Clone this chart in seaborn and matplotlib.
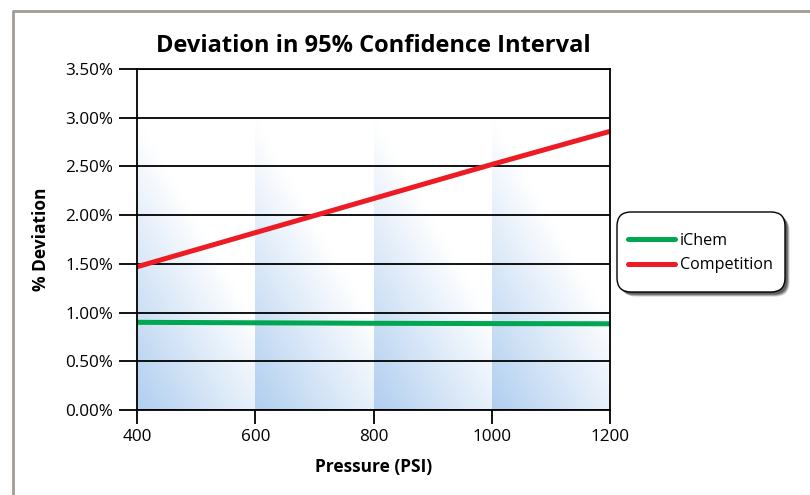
import numpy as np
import pandas as pd
import matplotlib
matplotlib.use("Agg")
import matplotlib.pyplot as plt
import seaborn as sns
from matplotlib.lines import Line2D
from matplotlib.patches import FancyBboxPatch

# Data (percent deviation vs pressure)
pressure = [400, 600, 800, 1000, 1200]
ichem = [0.90, 0.895, 0.89, 0.887, 0.885]
competition = [1.47, 1.82, 2.17, 2.52, 2.86]
series_names = ["iChem", "Competition"]
y_ticks = [0, 0.5, 1.0, 1.5, 2.0, 2.5, 3.0, 3.5]
x_ticks = [400, 600, 800, 1000, 1200]

df = pd.DataFrame({
    "Pressure": pressure * 2,
    "Deviation": ichem + competition,
    "Series": [series_names[0]] * len(pressure) + [series_names[1]] * len(pressure),
})

sns.set_theme(style="white")
plt.rcParams['font.family'] = ['Open Sans', 'DejaVu Sans']
plt.rcParams.update({"text.color": "black", "axes.labelcolor": "black",
                     "xtick.color": "black", "ytick.color": "black"})

fig = plt.figure(figsize=(8.1, 4.95), dpi=100)
ax = fig.add_axes([137/810, 1 - 410/495, (610-137)/810, (410-69)/495])

# gradient bands behind the plot (blue bottom-left fading to white top-right)
blue = np.array([0.69, 0.81, 0.94])
xs = np.linspace(0, 1, 150)
ys = np.linspace(0, 1, 150)
XX, YY = np.meshgrid(xs, ys)
v = np.clip(1 - 0.7 * XX - 1.0 * YY, 0, 1)
img = np.ones((150, 150, 3)) * (1 - v[..., None]) + blue * v[..., None]
for x0 in x_ticks[:-1]:
    ax.imshow(img, extent=(x0, x0 + 200, 0, 3.0), origin="lower",
              aspect="auto", zorder=0, interpolation="bilinear")

sns.lineplot(data=df, x="Pressure", y="Deviation", hue="Series",
             palette={"iChem": "#00a651", "Competition": "#ed1c24"},
             linewidth=3.6, ax=ax, zorder=3)

ax.set_xlim(400, 1200)
ax.set_ylim(0, 3.5)
ax.set_xticks(x_ticks)
ax.set_yticks(y_ticks)
ax.set_yticklabels([f"{t:.2f}%" for t in y_ticks])
for t in y_ticks:
    ax.axhline(t, color="black", lw=1.3, zorder=2)
for s in ax.spines.values():
    s.set_color("black")
    s.set_linewidth(1.3)
    s.set_zorder(4)
ax.tick_params(axis="both", which="major", direction="out", length=10,
               width=1.3, color="black", labelsize=12.3, pad=4,
               bottom=True, left=True)
ax.tick_params(axis="y", length=13)

ax.set_title("Deviation in 95% Confidence Interval", fontsize=17,
             fontweight="bold", pad=12)
ax.set_xlabel("Pressure (PSI)", fontsize=12.5, fontweight="bold", labelpad=9)
ax.set_ylabel("% Deviation", fontsize=12.5, fontweight="bold", labelpad=11)

# legend entries without frame, rounded box drawn separately
leg = ax.legend(title=None, loc="center left",
                bbox_to_anchor=(628/810, 1 - 253/495),
                bbox_transform=fig.transFigure, borderaxespad=0, borderpad=0,
                frameon=False, fontsize=11.6, handlelength=2.92,
                labelspacing=0.55, handletextpad=0.31)
for h in leg.get_lines():
    h.set_linewidth(3.6)

# box + soft shadow (offset copies)
for off, a in [(0.045, 0.25), (0.035, 0.45), (0.025, 0.6)]:
    ax.add_artist(FancyBboxPatch((6.17 + off, 2.03 - off), 1.68, 0.80,
                                 boxstyle="round,pad=0,rounding_size=0.14",
                                 transform=fig.dpi_scale_trans,
                                 facecolor="0.25", edgecolor="none", alpha=a,
                                 clip_on=False, zorder=4.5))
ax.add_artist(FancyBboxPatch((6.17, 2.03), 1.68, 0.80,
                             boxstyle="round,pad=0,rounding_size=0.14",
                             transform=fig.dpi_scale_trans, facecolor="white",
                             edgecolor="black", linewidth=1.0, clip_on=False,
                             zorder=4.6))

# outer frame (top and left)
fx = 13/810
fy = 1 - 11/495
fig.add_artist(Line2D([fx, fx, 1], [0, fy, fy], transform=fig.transFigure,
                      color="#a39a96", lw=2))

fig.savefig("out.png", dpi=100)
